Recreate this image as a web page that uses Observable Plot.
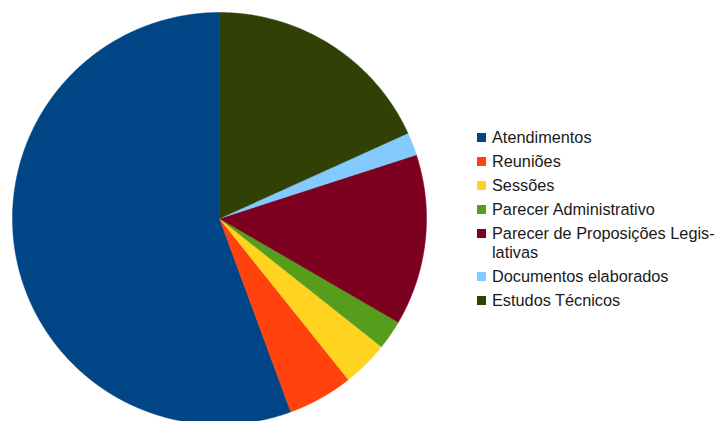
<!DOCTYPE html>
<html>
<head>
<meta charset="utf-8">
<script src="https://cdn.jsdelivr.net/npm/d3@7"></script>
<script src="https://cdn.jsdelivr.net/npm/@observablehq/plot@0.6"></script>
<style>
  html, body { margin: 0; padding: 0; background: #fff; overflow: hidden; }
  #wrap { position: relative; width: 717px; height: 421px; }
  #legend { position: absolute; left: 477px; top: 128px; font-family: "Liberation Sans", Arial, sans-serif; font-size: 16.3px; color: #1a1a1a; white-space: nowrap; }
  .item { display: flex; align-items: flex-start; line-height: 19px; margin-bottom: 5px; }
  .sw { width: 9px; height: 9px; margin-top: 5px; margin-right: 6px; flex: none; }
</style>
</head>
<body>
<div id="wrap"><div id="chart"></div><div id="legend"></div></div>
<script>
const categories = ["Atendimentos", "Reuniões", "Sessões", "Parecer Administrativo", "Parecer de Proposições Legislativas", "Documentos elaborados", "Estudos Técnicos"];
const legendLabels = ["Atendimentos", "Reuniões", "Sessões", "Parecer Administrativo", "Parecer de Proposições Legis-\nlativas", "Documentos elaborados", "Estudos Técnicos"];
const values = [55.6, 5.1, 3.6, 2.3, 13.4, 1.8, 18.2];
const colors = ["#004586", "#ff420e", "#ffd320", "#579d1c", "#7e0021", "#83caff", "#314004"];

// slice outlines (pie starts at 12 o'clock, runs counterclockwise)
const total = d3.sum(values);
const pts = [];
let acc = 0;
values.forEach((v, i) => {
  const a0 = acc / total * 2 * Math.PI;
  acc += v;
  const a1 = acc / total * 2 * Math.PI;
  const cat = categories[i];
  pts.push({cat, x: 0, y: 0});
  const n = Math.max(2, Math.ceil((a1 - a0) / 0.005));
  for (let k = 0; k <= n; k++) {
    const a = a0 + (a1 - a0) * k / n;
    pts.push({cat, x: -Math.sin(a), y: Math.cos(a)});
  }
  pts.push({cat, x: 0, y: 0});
});

const chart = Plot.plot({
  width: 717,
  height: 421,
  marginLeft: 12,
  marginRight: 291,
  marginTop: 12,
  marginBottom: 0,
  x: {domain: [-1, 1], axis: null},
  y: {domain: [-(421 - 218) / 206, 1], axis: null},
  color: {domain: categories, range: colors},
  marks: [
    Plot.line(pts, {x: "x", y: "y", z: "cat", fill: "cat", stroke: "cat", strokeWidth: 0.5, curve: "linear"})
  ]
});
document.getElementById("chart").appendChild(chart);

const legend = document.getElementById("legend");
legendLabels.forEach((lab, i) => {
  const it = document.createElement("div");
  it.className = "item";
  const sw = document.createElement("div");
  sw.className = "sw";
  sw.style.background = colors[i];
  const tx = document.createElement("div");
  tx.innerHTML = lab.split("\n").join("<br>");
  it.appendChild(sw); it.appendChild(tx);
  legend.appendChild(it);
});
</script>
</body>
</html>
